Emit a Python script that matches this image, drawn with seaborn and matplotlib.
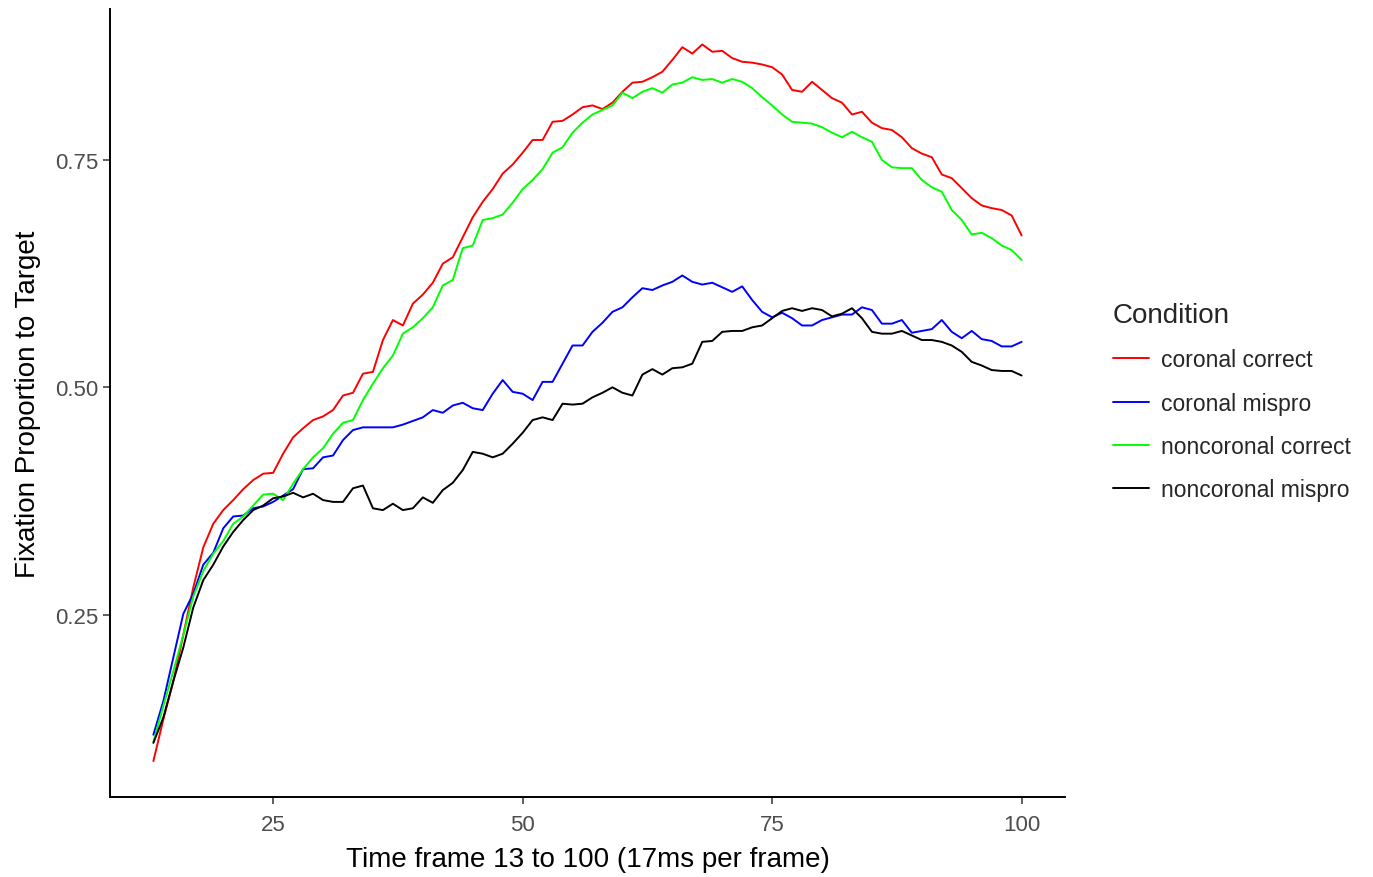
# Fixation proportion to target by condition, frames 13-100
import matplotlib
matplotlib.use("Agg")
import matplotlib.pyplot as plt
import numpy as np
import pandas as pd
import seaborn as sns

# %% DATA
frames = list(range(13, 101))

coronal_correct = [
    0.089, 0.135, 0.177, 0.228, 0.280, 0.324, 0.350, 0.365, 0.376, 0.388,
    0.398, 0.405, 0.406, 0.427, 0.445, 0.455, 0.464, 0.468, 0.475, 0.491,
    0.494, 0.515, 0.517, 0.552, 0.574, 0.568, 0.592, 0.602, 0.615, 0.636,
    0.643, 0.665, 0.687, 0.704, 0.718, 0.735, 0.745, 0.758, 0.772, 0.772,
    0.792, 0.793, 0.800, 0.808, 0.810, 0.806, 0.813, 0.825, 0.835, 0.836,
    0.841, 0.847, 0.860, 0.874, 0.867, 0.877, 0.869, 0.870, 0.862, 0.858,
    0.857, 0.855, 0.852, 0.844, 0.827, 0.825, 0.836, 0.827, 0.818, 0.813,
    0.800, 0.803, 0.791, 0.785, 0.783, 0.775, 0.763, 0.757, 0.753, 0.734,
    0.730, 0.719, 0.708, 0.700, 0.697, 0.695, 0.689, 0.667,
]

coronal_mispro = [
    0.118, 0.155, 0.203, 0.251, 0.273, 0.305, 0.318, 0.345, 0.358, 0.359,
    0.367, 0.369, 0.374, 0.381, 0.388, 0.410, 0.411, 0.423, 0.425, 0.442,
    0.453, 0.456, 0.456, 0.456, 0.456, 0.459, 0.463, 0.467, 0.475, 0.472,
    0.480, 0.483, 0.477, 0.475, 0.493, 0.508, 0.495, 0.493, 0.486, 0.506,
    0.506, 0.526, 0.546, 0.546, 0.561, 0.571, 0.583, 0.588, 0.599, 0.609,
    0.607, 0.612, 0.616, 0.623, 0.616, 0.613, 0.615, 0.610, 0.605, 0.611,
    0.596, 0.583, 0.577, 0.582, 0.576, 0.568, 0.568, 0.574, 0.577, 0.580,
    0.580, 0.588, 0.585, 0.570, 0.570, 0.574, 0.560, 0.562, 0.564, 0.574,
    0.561, 0.554, 0.562, 0.553, 0.551, 0.545, 0.545, 0.550,
]

noncoronal_correct = [
    0.110, 0.150, 0.188, 0.228, 0.270, 0.298, 0.317, 0.331, 0.350, 0.358,
    0.370, 0.382, 0.383, 0.376, 0.394, 0.410, 0.423, 0.433, 0.449, 0.461,
    0.464, 0.486, 0.504, 0.521, 0.535, 0.559, 0.566, 0.576, 0.588, 0.612,
    0.618, 0.653, 0.656, 0.684, 0.686, 0.690, 0.703, 0.718, 0.728, 0.740,
    0.758, 0.764, 0.780, 0.791, 0.800, 0.805, 0.810, 0.824, 0.818, 0.825,
    0.829, 0.824, 0.833, 0.835, 0.841, 0.838, 0.839, 0.835, 0.839, 0.836,
    0.829, 0.819, 0.810, 0.800, 0.792, 0.791, 0.790, 0.786, 0.780, 0.775,
    0.781, 0.775, 0.770, 0.750, 0.742, 0.741, 0.741, 0.728, 0.720, 0.715,
    0.695, 0.684, 0.668, 0.670, 0.664, 0.656, 0.651, 0.640,
]

noncoronal_mispro = [
    0.109, 0.137, 0.177, 0.214, 0.258, 0.288, 0.305, 0.325, 0.341, 0.354,
    0.365, 0.370, 0.378, 0.380, 0.384, 0.379, 0.383, 0.376, 0.374, 0.374,
    0.389, 0.392, 0.367, 0.365, 0.372, 0.365, 0.367, 0.379, 0.373, 0.387,
    0.395, 0.409, 0.429, 0.427, 0.423, 0.427, 0.438, 0.450, 0.464, 0.467,
    0.464, 0.482, 0.481, 0.482, 0.489, 0.494, 0.500, 0.494, 0.491, 0.514,
    0.520, 0.514, 0.521, 0.522, 0.526, 0.550, 0.551, 0.561, 0.562, 0.562,
    0.566, 0.568, 0.576, 0.584, 0.587, 0.584, 0.587, 0.585, 0.578, 0.581,
    0.587, 0.576, 0.561, 0.559, 0.559, 0.562, 0.557, 0.552, 0.552, 0.550,
    0.546, 0.539, 0.528, 0.524, 0.519, 0.518, 0.518, 0.513,
]

conditions = ["coronal correct", "coronal mispro", "noncoronal correct", "noncoronal mispro"]
colors = ["#FF0000", "#0000FF", "#00FF00", "#000000"]
x_ticks = [25, 50, 75, 100]
y_ticks = [0.25, 0.50, 0.75]

# long-form table for seaborn
series = [coronal_correct, coronal_mispro, noncoronal_correct, noncoronal_mispro]
df = pd.concat(
    [pd.DataFrame({"frame": frames, "prop": vals, "Condition": cond})
     for cond, vals in zip(conditions, series)],
    ignore_index=True,
)

# %% PLOT
sns.set_style("ticks")
plt.rcParams["font.family"] = ["Liberation Sans", "DejaVu Sans"]

fig = plt.figure(figsize=(13.73, 8.78), dpi=100)
ax = fig.add_axes([0.0801, 0.0911, 0.6956, 0.8975])

sns.lineplot(
    data=df, x="frame", y="prop", hue="Condition",
    hue_order=conditions, palette=colors, linewidth=1.4, ax=ax,
)

ax.set_xlim(8.65, 104.35)
ax.set_ylim(0.0495, 0.916)
ax.set_xticks(x_ticks)
ax.set_xticklabels([str(t) for t in x_ticks])
ax.set_yticks(y_ticks)
ax.set_yticklabels([f"{t:.2f}" for t in y_ticks])

ax.set_xlabel("Time frame 13 to 100 (17ms per frame)", fontsize=20, color="black", labelpad=8)
ax.set_ylabel("Fixation Proportion to Target", fontsize=20, color="black", labelpad=10)
ax.tick_params(axis="both", labelsize=16, colors="#4D4D4D", length=5, width=1.1)
ax.tick_params(axis="x", pad=7)
ax.tick_params(axis="both", color="#333333")

for side in ["top", "right"]:
    ax.spines[side].set_visible(False)
for side in ["left", "bottom"]:
    ax.spines[side].set_color("black")
    ax.spines[side].set_linewidth(1.4)

sns.move_legend(
    ax, "upper left",
    bbox_to_anchor=(0.804, 0.6655), bbox_transform=fig.transFigure,
    frameon=False, title="Condition", fontsize=16.5, title_fontsize=20,
    handlelength=1.55, handletextpad=0.55, labelspacing=0.89,
    borderaxespad=0,
)
leg = ax.get_legend()
leg._legend_box.align = "left"
for line in leg.get_lines():
    line.set_linewidth(1.4)

fig.savefig("out.png", dpi=100)
